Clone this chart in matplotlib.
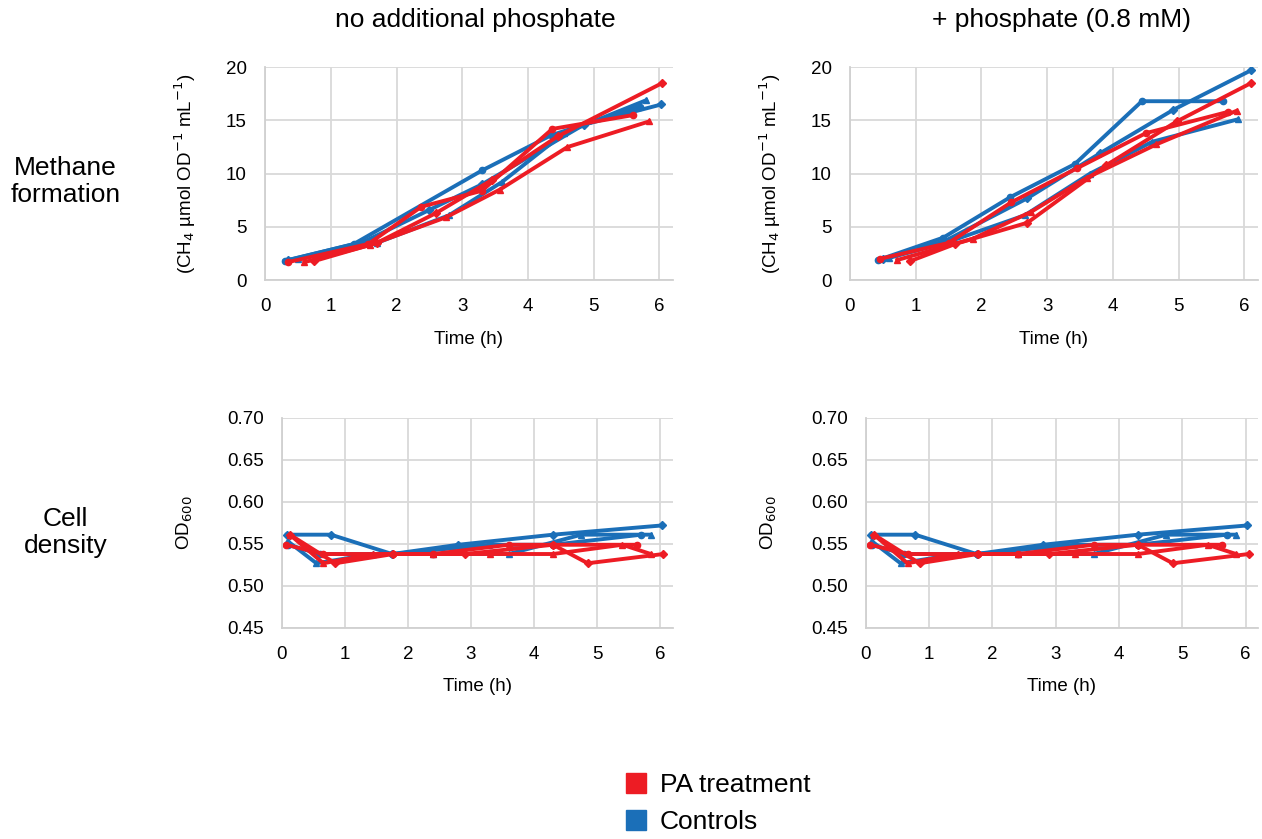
import matplotlib.pyplot as plt
from matplotlib.patches import Patch

plt.rcParams['font.family'] = ['Liberation Sans', 'DejaVu Sans']

RED = '#ED1C24'
BLUE = '#1B6FB8'

# methane formation, no additional phosphate
m0_blue_t = [[0.3, 1.35, 3.3, 4.35, 5.7],
             [0.5, 1.7, 2.8, 3.6, 4.55, 5.8],
             [0.35, 1.5, 2.5, 3.3, 4.85, 6.03]]
m0_blue_v = [[1.8, 3.4, 10.3, 13.6, 16.3],
             [2.0, 3.5, 6.1, 9.2, 13.8, 16.9],
             [1.9, 3.6, 6.6, 9.0, 14.6, 16.5]]
m0_red_t = [[0.35, 1.57, 2.38, 3.3, 4.37, 5.6],
            [0.6, 1.6, 2.75, 3.57, 4.6, 5.84],
            [0.75, 1.7, 2.6, 3.45, 4.45, 6.04]]
m0_red_v = [[1.7, 3.4, 6.9, 8.4, 14.2, 15.5],
            [1.7, 3.3, 5.9, 8.5, 12.5, 14.9],
            [1.8, 3.5, 6.3, 9.4, 13.5, 18.5]]

# methane formation, + phosphate (0.8 mM)
m1_blue_t = [[0.43, 1.42, 2.44, 3.42, 4.44, 5.68],
             [0.6, 1.5, 2.66, 3.65, 4.6, 5.9],
             [0.5, 1.45, 2.7, 3.8, 4.92, 6.1]]
m1_blue_v = [[1.9, 4.0, 7.8, 10.9, 16.8, 16.8],
             [2.1, 3.6, 6.1, 10.0, 13.0, 15.1],
             [2.0, 3.7, 7.7, 11.9, 16.0, 19.7]]
m1_red_t = [[0.45, 1.5, 2.45, 3.45, 4.5, 5.75],
            [0.72, 1.87, 2.75, 3.6, 4.66, 5.88],
            [0.92, 1.6, 2.7, 3.9, 4.97, 6.1]]
m1_red_v = [[2.0, 3.5, 7.3, 10.5, 13.8, 15.8],
            [1.9, 3.9, 6.4, 9.6, 12.75, 15.9],
            [1.8, 3.4, 5.4, 10.8, 14.9, 18.5]]

# cell density (same in both panels)
od_blue_t = [[0.1, 0.6, 1.75, 3.3, 4.3, 5.7],
             [0.1, 0.55, 1.45, 2.4, 3.6, 4.75, 5.85],
             [0.08, 0.78, 1.75, 2.8, 4.3, 6.03]]
od_blue_v = [[0.549, 0.538, 0.538, 0.549, 0.549, 0.561],
             [0.553, 0.527, 0.538, 0.538, 0.538, 0.561, 0.561],
             [0.561, 0.561, 0.538, 0.549, 0.561, 0.572]]
od_red_t = [[0.07, 0.66, 1.77, 2.4, 3.6, 4.3, 5.63],
            [0.13, 0.66, 1.45, 2.4, 3.3, 4.3, 5.4, 5.85],
            [0.13, 0.85, 1.77, 2.9, 4.3, 4.85, 6.05]]
od_red_v = [[0.549, 0.538, 0.538, 0.538, 0.549, 0.549, 0.549],
            [0.561, 0.527, 0.538, 0.538, 0.538, 0.538, 0.549, 0.538],
            [0.561, 0.527, 0.538, 0.538, 0.549, 0.527, 0.538]]

markers = ['o', '^', 'D']

fig = plt.figure(figsize=(12.62, 8.39), dpi=100)
ax_tl = fig.add_axes([0.210, 0.666, 0.323, 0.254])
ax_tr = fig.add_axes([0.6735, 0.666, 0.323, 0.254])
ax_bl = fig.add_axes([0.2232, 0.2515, 0.310, 0.2505])
ax_br = fig.add_axes([0.686, 0.2515, 0.311, 0.2505])


def draw(ax, bt, bv, rt, rv):
    for t, v, m in zip(bt, bv, markers):
        ax.plot(t, v, color=BLUE, lw=2.8, marker=m, ms=4.5)
    for t, v, m in zip(rt, rv, markers):
        ax.plot(t, v, color=RED, lw=2.8, marker=m, ms=4.5)
    ax.set_xlim(0, 6.2)
    ax.set_xticks(range(7))
    ax.grid(True, color='#D9D9D9', lw=1.3)
    ax.set_axisbelow(True)
    for s in ['top', 'right']:
        ax.spines[s].set_visible(False)
    for s in ['left', 'bottom']:
        ax.spines[s].set_color('#D0D0D0')
        ax.spines[s].set_linewidth(1.3)
    ax.tick_params(length=0, labelsize=13.5, pad=13)
    ax.set_xlabel('Time (h)', fontsize=13.5, labelpad=11)


draw(ax_tl, m0_blue_t, m0_blue_v, m0_red_t, m0_red_v)
draw(ax_tr, m1_blue_t, m1_blue_v, m1_red_t, m1_red_v)
draw(ax_bl, od_blue_t, od_blue_v, od_red_t, od_red_v)
draw(ax_br, od_blue_t, od_blue_v, od_red_t, od_red_v)

for ax in [ax_tl, ax_tr]:
    ax.set_ylim(0, 20)
    ax.set_yticks([0, 5, 10, 15, 20])
    ax.set_ylabel(r'(CH$_4$ µmol OD$^{-1}$ mL$^{-1}$)', fontsize=13.5)
    ax.yaxis.set_label_coords(-0.165, 0.5)
for ax in [ax_bl, ax_br]:
    ax.set_ylim(0.45, 0.70)
    ax.set_yticks([0.45, 0.50, 0.55, 0.60, 0.65, 0.70])
    ax.set_yticklabels(['0.45', '0.50', '0.55', '0.60', '0.65', '0.70'])
    ax.set_ylabel(r'OD$_{600}$', fontsize=13.5)
    ax.yaxis.set_label_coords(-0.222, 0.5)

fig.text(0.377, 0.976, 'no additional phosphate', ha='center', va='center', fontsize=19)
fig.text(0.841, 0.976, '+ phosphate (0.8 mM)', ha='center', va='center', fontsize=19)
fig.text(0.052, 0.784, 'Methane\nformation', ha='center', va='center', fontsize=19, linespacing=1.15)
fig.text(0.052, 0.365, 'Cell\ndensity', ha='center', va='center', fontsize=19, linespacing=1.15)

handles = [Patch(color=RED, label='PA treatment'), Patch(color=BLUE, label='Controls')]
fig.legend(handles=handles, loc='center left', bbox_to_anchor=(0.477, 0.042), frameon=False,
           fontsize=19, handlelength=0.75, handleheight=0.75, handletextpad=0.55, labelspacing=0.5)

fig.savefig('out.png', dpi=100)
